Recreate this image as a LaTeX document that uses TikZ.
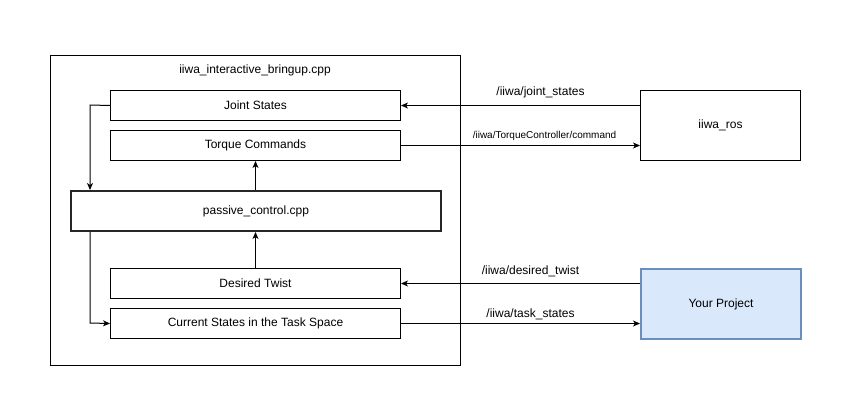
\documentclass[tikz,border=0pt]{standalone}
\usepackage{fontspec}
\setmainfont{Liberation Sans}
\usetikzlibrary{arrows.meta}
\begin{document}
\begin{tikzpicture}[x=1pt,y=-1pt,
  box/.style={draw=black,line width=1pt,inner sep=0pt,anchor=north west,font=\fontsize{12}{14}\selectfont},
  conn/.style={line width=1pt,-{Stealth[length=7pt,width=6pt,inset=2pt]}},
  lbl/.style={font=\fontsize{12}{14}\selectfont,inner sep=0pt},
  small/.style={font=\fontsize{10}{12}\selectfont,inner sep=0pt}]
\useasboundingbox (0,0) rectangle (852,416);
\fill[white] (0,0) rectangle (852,416);
\node[box,minimum width=410pt,minimum height=310pt] (outer) at (50,55) {};
\node[lbl] (title) at (255,70) {iiwa\_interactive\_bringup.cpp};
\node[box,minimum width=290pt,minimum height=30pt] (js) at (110,90) {Joint States};
\node[box,minimum width=290pt,minimum height=30pt] (tc) at (110,130) {Torque Commands};
\node[box,draw=black!85,line width=2pt,minimum width=370pt,minimum height=40pt] (pc) at (70,190) {passive\_control.cpp};
\node[box,minimum width=290pt,minimum height=30pt] (dt) at (110,268) {Desired Twist};
\node[box,minimum width=290pt,minimum height=30pt] (cs) at (110,308) {Current States in the Task Space};
\node[box,minimum width=160pt,minimum height=70pt] (ros) at (640,90) {iiwa\_ros};
\node[box,fill={rgb,255:red,218;green,232;blue,252},draw={rgb,255:red,108;green,142;blue,191},line width=2pt,minimum width=160pt,minimum height=70pt] (yp) at (640,268) {Your Project};
% internal connectors
\coordinate (c1) at (90,105);
\coordinate (c2) at (90,323);
\draw[conn] (js.west) -- (c1) -- (c1 |- pc.north);
\draw[conn] (c2 |- pc.south) -- (c2) -- (cs.west);
\draw[conn] (pc.north -| tc.south) -- (tc.south);
\draw[conn] (dt.north) -- (dt.north |- pc.south);
% external connectors
\draw[conn] (ros.west |- js.east) -- node[lbl,above=7pt,xshift=20pt] {/iiwa/joint\_states} (js.east);
\draw[conn] (tc.east) -- node[small,above=4pt,xshift=24pt] {/iiwa/TorqueController/command} (ros.west |- tc.east);
\draw[conn] (yp.west |- dt.east) -- node[lbl,above=6pt,xshift=10pt] {/iiwa/desired\_twist} (dt.east);
\draw[conn] (cs.east) -- node[lbl,above=3pt,xshift=10pt] {/iiwa/task\_states} (yp.west |- cs.east);
\end{tikzpicture}
\end{document}
